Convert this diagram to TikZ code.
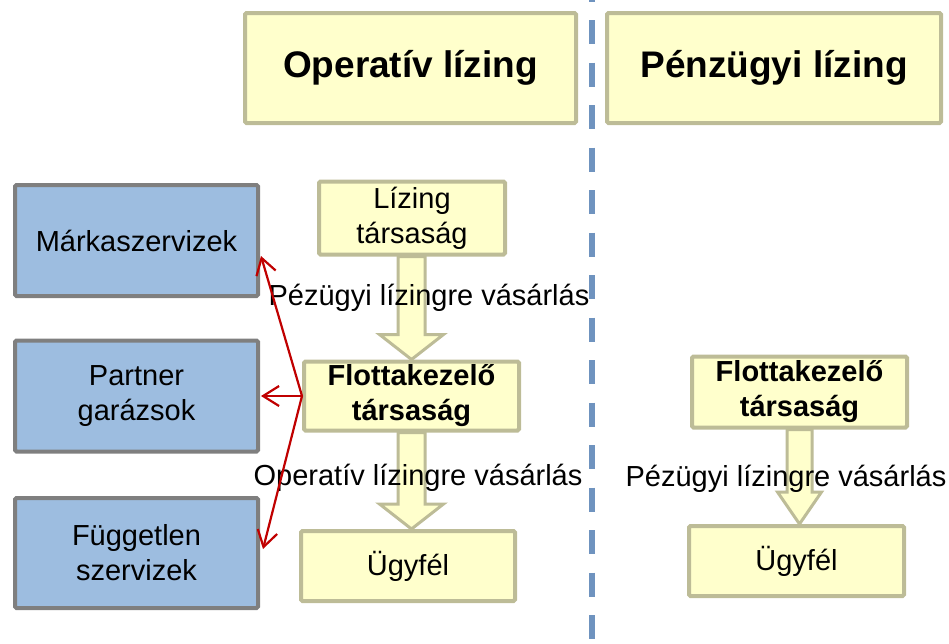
\documentclass[tikz,border=0pt]{standalone}
\usepackage{fontspec}
\setmainfont{Liberation Sans}
\usetikzlibrary{arrows.meta,calc,backgrounds}
\definecolor{yfill}{HTML}{FFFFCC}
\definecolor{ybord}{HTML}{BDBC97}
\definecolor{bfill}{HTML}{9DBDE0}
\definecolor{bbord}{HTML}{7F7F7F}
\definecolor{dashblue}{HTML}{6F93BF}
\definecolor{redline}{HTML}{C00000}
\begin{document}
\begin{tikzpicture}[x=1pt,y=-1pt,
  ybox/.style={draw=ybord, fill=yfill, line width=4pt, rounded corners=1.5pt, inner sep=0pt, align=center, text=black, font=\fontsize{29}{35}\selectfont},
  bbox/.style={draw=bbord, fill=bfill, line width=4pt, rounded corners=1.5pt, inner sep=0pt, align=center, text=black, font=\fontsize{29}{35}\selectfont},
  headbox/.style={ybox, font=\bfseries\fontsize{37}{44}\selectfont},
  boldbox/.style={ybox, font=\bfseries\fontsize{29}{35}\selectfont},
  lbl/.style={inner sep=0pt, text=black, font=\fontsize{29}{35}\selectfont},
  barrow/.style={draw=ybord, fill=yfill, line width=3pt, line join=miter},
  redarrow/.style={draw=redline, line width=2.2pt, -{Straight Barb[length=16pt,width=20pt,line width=2.2pt]}}
]
\useasboundingbox (0,0) rectangle (949,643);

% dashed separator
\draw[dashblue, line width=6pt, dash pattern=on 24pt off 18.5pt] (592,-22.5) coordinate (dtop) -- (592,660) coordinate (dbot);

% headers
\node[headbox, minimum width=331, minimum height=110] (hop) at (410.5,68) {Operatív lízing};
\node[headbox, minimum width=334, minimum height=110] (hpz) at (774,68) {Pénzügyi lízing};

% left blue boxes
\node[bbox, minimum width=243, minimum height=111] (mark) at (136.5,240.5) {Márkaszervizek};
\node[bbox, minimum width=243, minimum height=111] (partner) at (136.5,396) {Partner\\garázsok};
\node[bbox, minimum width=243, minimum height=110] (fugg) at (136.5,553) {Független\\szervizek};

% middle column
\node[ybox, minimum width=186, minimum height=73] (lz) at (412,218) {Lízing\\társaság};
\node[boldbox, minimum width=215, minimum height=69] (fl) at (411.5,396) {Flottakezelő\\társaság};
\node[ybox, minimum width=214, minimum height=70] (ugy) at (408,566) {Ügyfél};

% right column
\node[boldbox, minimum width=215, minimum height=71] (fl2) at (799.5,392) {Flottakezelő\\társaság};
\node[ybox, minimum width=215, minimum height=70] (ugy2) at (796.5,561) {Ügyfél};

% block arrows (behind boxes)
\begin{scope}[on background layer]
  \coordinate (t1) at (fl.north);
  \draw[barrow] ($(t1 |- lz.south)+(-13.5,0)$) -- ($(t1 |- lz.south)+(13.5,0)$) -- ($(t1)+(13.5,-25)$) -- ($(t1)+(32,-25)$) -- (t1) -- ($(t1)+(-32,-25)$) -- ($(t1)+(-13.5,-25)$) -- cycle;
  \coordinate (t2) at (ugy.north -| fl.south);
  \draw[barrow] ($(fl.south)+(-13.5,0)$) -- ($(fl.south)+(13.5,0)$) -- ($(t2)+(13.5,-25)$) -- ($(t2)+(32,-25)$) -- (t2) -- ($(t2)+(-32,-25)$) -- ($(t2)+(-13.5,-25)$) -- cycle;
  \coordinate (t3) at (ugy2.north -| fl2.south);
  \draw[barrow] ($(fl2.south)+(-12.5,0)$) -- ($(fl2.south)+(12.5,0)$) -- ($(t3)+(12.5,-32)$) -- ($(t3)+(22,-32)$) -- (t3) -- ($(t3)+(-22,-32)$) -- ($(t3)+(-12.5,-32)$) -- cycle;
\end{scope}

% labels on arrows
\node[lbl] (l1) at (429,298) {Pézügyi lízingre vásárlás};
\node[lbl] (l2) at (418,478) {Operatív lízingre vásárlás};
\node[lbl] (l3) at (786,479) {Pézügyi lízingre vásárlás};

% red connectors
\draw[redarrow] (fl.west) -- ($(mark.east)+(1,15.5)$);
\draw[redarrow] (fl.west) -- ($(partner.east)+(1,0)$);
\draw[redarrow] (fl.west) -- ($(fugg.east)+(3,-4)$);
\end{tikzpicture}
\end{document}
